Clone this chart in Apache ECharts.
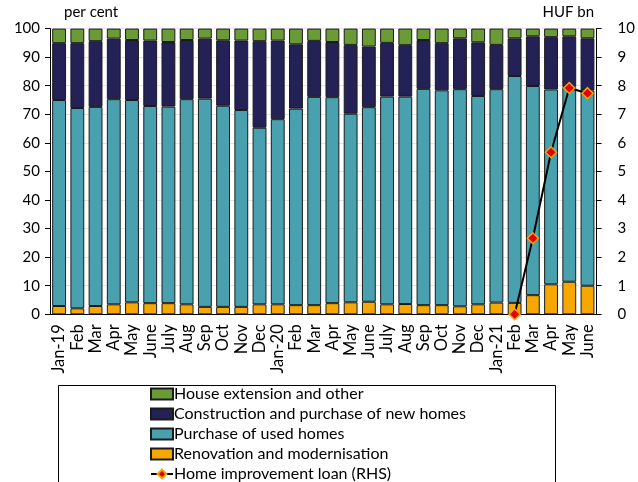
<!DOCTYPE html>
<html>
<head>
<meta charset="utf-8">
<script src="https://cdn.jsdelivr.net/npm/echarts@6/dist/echarts.min.js"></script>
<style>
  html, body { margin: 0; padding: 0; background: #fff; }
  #chart { width: 638px; height: 482px; }
</style>
</head>
<body>
<div id="chart"></div>
<script>
var months = ['Jan-19', 'Feb', 'Mar', 'Apr', 'May', 'June', 'July', 'Aug', 'Sep', 'Oct', 'Nov', 'Dec',
              'Jan-20', 'Feb', 'Mar', 'Apr', 'May', 'June', 'July', 'Aug', 'Sep', 'Oct', 'Nov', 'Dec',
              'Jan-21', 'Feb', 'Mar', 'Apr', 'May', 'June'];

// per cent shares, bottom to top
var renovation = [2.9, 2.1, 2.9, 3.5, 4.2, 3.9, 3.9, 3.5, 2.6, 2.6, 2.6, 3.5, 3.5, 3.2, 3.2,
                  3.9, 4.2, 4.4, 3.5, 3.6, 3.2, 3.2, 2.8, 3.5, 4.1, 4.0, 6.7, 10.5, 11.4, 10.0];
var usedHomes = [72.1, 70.1, 69.7, 71.8, 70.8, 69.0, 68.8, 71.8, 72.9, 70.4, 68.9, 61.8, 64.8, 68.8, 72.9,
                 72.1, 66.0, 68.1, 72.7, 72.6, 75.7, 75.2, 76.0, 72.9, 74.7, 79.4, 73.2, 68.2, 68.2, 68.3];
var newHomes = [19.9, 22.7, 23.0, 21.2, 21.0, 22.9, 22.6, 20.7, 21.0, 22.9, 24.3, 30.3, 27.5, 22.5, 19.6,
                19.3, 24.1, 21.2, 18.8, 18.0, 17.1, 16.5, 17.8, 18.8, 15.5, 13.2, 17.4, 18.3, 17.7, 18.3];
var extension = [5.1, 5.1, 4.4, 3.5, 4.0, 4.2, 4.7, 4.0, 3.5, 4.1, 4.2, 4.4, 4.2, 5.5, 4.3,
                 4.7, 5.7, 6.3, 5.0, 5.8, 4.0, 5.1, 3.4, 4.8, 5.7, 3.4, 2.7, 3.0, 2.7, 3.4];

// HUF bn, right axis
var loanMonths = [25, 26, 27, 28, 29];
var loanValues = [0, 2.66, 5.67, 7.92, 7.74];

var leftTicks = [0, 100, 10];
var rightTicks = [0, 10, 1];

var loan = months.map(function () { return null; });
loanMonths.forEach(function (idx, i) { loan[idx] = loanValues[i]; });

var FONT = 'Lato';
var chart = echarts.init(document.getElementById('chart'));

function barSeries(name, data, color) {
    return {
        name: name,
        type: 'bar',
        stack: 'share',
        data: data,
        barCategoryGap: '24%',
        itemStyle: { color: color, borderColor: '#1a1a1a', borderWidth: 1 },
        emphasis: { disabled: true }
    };
}

var option = {
    backgroundColor: '#fff',
    animation: false,
    textStyle: { fontFamily: FONT, color: '#000' },
    grid: { left: 50, right: 40, top: 28.6, bottom: 167.7, containLabel: false },
    graphic: [
        { type: 'text', left: 64, top: 5, style: { text: 'per cent', font: '15px ' + FONT, fill: '#000' } },
        { type: 'text', right: 44, top: 5, style: { text: 'HUF bn', font: '15px ' + FONT, fill: '#000' } },
        { type: 'rect', shape: { x: 58.5, y: 385.5, width: 497, height: 110 },
          style: { fill: 'none', stroke: '#000', lineWidth: 1 }, z: -1 }
    ],
    legend: {
        orient: 'vertical',
        left: 150,
        top: 386,
        padding: 0,
        itemGap: 4,
        itemWidth: 22,
        itemHeight: 11,
        height: 300,
        textStyle: { fontSize: 16, fontFamily: FONT, color: '#000', padding: [0, 0, 0, -4] },
        data: [
            { name: 'House extension and other', icon: 'rect' },
            { name: 'Construction and purchase of new homes', icon: 'rect' },
            { name: 'Purchase of used homes', icon: 'rect' },
            { name: 'Renovation and modernisation', icon: 'rect' },
            { name: 'Home improvement loan (RHS)' }
        ]
    },
    xAxis: {
        type: 'category',
        data: months,
        axisLine: { lineStyle: { color: '#000', width: 1 } },
        axisTick: { show: false },
        axisLabel: { interval: 0, rotate: 90, fontSize: 16.5, color: '#000', fontFamily: FONT, margin: 10 }
    },
    yAxis: [
        {
            type: 'value', min: leftTicks[0], max: leftTicks[1], interval: leftTicks[2],
            axisLine: { show: true, lineStyle: { color: '#000' } },
            axisTick: { show: true, length: 5, lineStyle: { color: '#000' } },
            axisLabel: { fontSize: 15, color: '#000', fontFamily: FONT, margin: 10 },
            splitLine: { show: true, lineStyle: { color: '#e3e3e3', width: 1 } }
        },
        {
            type: 'value', min: rightTicks[0], max: rightTicks[1], interval: rightTicks[2],
            axisLine: { show: true, lineStyle: { color: '#000' } },
            axisTick: { show: true, length: 5, lineStyle: { color: '#000' } },
            axisLabel: { fontSize: 15, color: '#000', fontFamily: FONT, margin: 21 },
            splitLine: { show: false }
        }
    ],
    series: [
        barSeries('Renovation and modernisation', renovation, '#f7a800'),
        barSeries('Purchase of used homes', usedHomes, '#49a1b0'),
        barSeries('Construction and purchase of new homes', newHomes, '#232155'),
        barSeries('House extension and other', extension, '#6a9b36'),
        {
            name: 'Home improvement loan (RHS)',
            type: 'line',
            yAxisIndex: 1,
            data: loan,
            symbol: 'diamond',
            symbolSize: 11,
            lineStyle: { color: '#000', width: 2 },
            itemStyle: { color: '#e30000', borderColor: '#f5a300', borderWidth: 1.5 },
            z: 5
        }
    ]
};
chart.setOption(option);
</script>
</body>
</html>
